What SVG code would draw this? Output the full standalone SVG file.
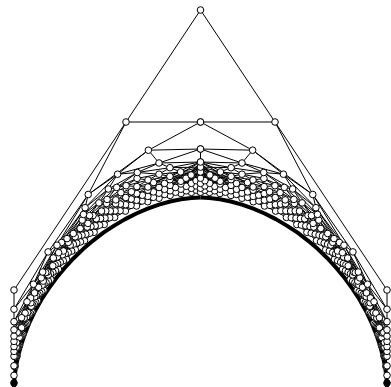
<svg xmlns="http://www.w3.org/2000/svg" width="391" height="387" viewBox="0 0 391 387">
<style>
.e{fill:none;stroke:#000;stroke-width:1;stroke-linejoin:round}
.n{fill:#fff;stroke:#000;stroke-width:1}
</style>
<rect width="391" height="387" fill="#fff"/>
<g id="connectors" class="e">
<g id="edgesL">
<path d="M200.5 10L126 122L200.5 122M126 122L14 290L14 309.2M126 122L88.2 194.5M200.5 122L148.4 150.2M14 375.4L14 386"/>
<path d="M14 309.2L48.1 251.9L88.2 194.5L148.4 150.2L200.5 149"/>
<path d="M14 321.7L33.5 284.2L57 245.2L85.1 207.7L117.6 174.2L159 163L200.5 162"/>
<path d="M14 329.8L27 301.8L42.7 272L61.6 242.5L83.5 214.4L108.3 189L137.3 172.5L169.9 167.7L200.5 167.1"/>
<path d="M14 336.1L21.6 317.7L30.6 298L41.2 277.9L53.3 258L67 238.6L82.2 220.1L98.9 202.9L116.7 187.4L137.1 178.4L159 174.2L180.6 171.9L200.5 172"/>
<path d="M14 341.4L17.3 332.5L25.1 313.1L34.5 292.9L45.7 272.6L58.6 252.7L73.3 233.5L89.5 215.6L107.1 199.4L126.1 185.7L148 180L169.9 176.4L191.1 175L200.5 175.2"/>
<path d="M14 346.6L18.6 333L24.2 318.1L30.9 302.8L38.6 287.3L47.5 272L57.4 256.9L68.3 242.4L80.2 228.5L93 215.5L106.6 203.5L120.9 192.7L136.9 186.6L153.5 182.5L170 179.7L186 178.2L200.5 178.2"/>
<path d="M14 351.4L16.6 342.6L21.6 327.8L27.6 312.4L34.8 296.7L43.2 281.1L52.8 265.8L63.5 251L75.2 236.8L87.9 223.4L101.5 211.1L115.8 199.9L131.4 191.8L147.9 187L164.5 183.4L180.8 181.3L196.1 180.7L200.5 180.7"/>
<path d="M14 356.2L16.3 347.4L19.2 337.5L22.7 327.3L26.7 316.8L31.2 306.3L36.4 295.7L42.1 285.2L48.3 274.9L55.1 264.7L62.4 254.8L70.2 245.1L78.5 235.9L87.2 227.1L96.3 218.8L105.8 210.9L115.6 203.7L125.8 197.5L136.8 193.6L147.9 190.2L159 187.5L170 185.4L180.9 184L191.3 183.4L200.5 183.4"/>
<path d="M14.9 356.8L17.3 347.2L20.2 337.1L23.7 326.6L27.9 315.9L32.7 305.2L38 294.6L44 284L50.5 273.7L57.6 263.5L65.3 253.7L73.4 244.2L82 235.1L91 226.5L100.5 218.5L110.3 211L120.4 204.1L131.2 199.1L142.3 195.2L153.4 191.9L164.5 189.3L175.5 187.5L186.2 186.3L196.2 185.9L200.5 185.9"/>
<path d="M14 365.8L15.7 356.9L18.1 346.9L21.1 336.4L24.8 325.6L29.2 314.8L34.2 304L39.8 293.2L46.1 282.6L52.9 272.3L60.3 262.2L68.3 252.4L76.8 243.1L85.8 234.2L95.2 225.8L105 218.1L115.1 210.9L125.6 204.7L136.6 200.2L147.8 196.4L159 193.2L170.1 190.8L180.9 189.2L191.3 188.3L200.5 188.2"/>
<path d="M14.6 366.4L16.4 356.6L18.9 346.2L22.1 335.4L26 324.5L30.5 313.5L35.8 302.5L41.8 291.7L48.3 281.1L55.5 270.7L63.3 260.7L71.7 251.1L80.5 241.9L89.8 233.2L99.6 225.1L109.7 217.7L120.1 210.8L131 205.4L142.1 201L153.4 197.3L164.6 194.4L175.6 192.2L186.3 190.8L196.2 190.2L200.5 190.2"/>
<path d="M14 375.4L15.1 366.4L17 356.1L19.6 345.3L23 334.3L27.2 323.1L32 312L37.6 300.9L43.9 290.1L50.8 279.4L58.4 269.1L66.5 259.2L75.3 249.7L84.5 240.7L94.1 232.3L104.2 224.5L114.6 217.4L125.4 211.1L136.5 206L147.7 201.7L159 198.2L170.1 195.4L181 193.5L191.4 192.4L200.5 192.2"/>
<path d="M14 321.7L14 309.2L33.5 284.2M33.5 284.2L48.1 251.9L57 245.2M57 245.2L88.2 194.5L85.1 207.7M88.2 194.5L117.6 174.2M117.6 174.2L148.4 150.2L159 163M159 163L200.5 149L200.5 162"/>
<path d="M14 329.8L14 321.7L27 301.8L33.5 284.2L42.7 272L57 245.2L61.6 242.5L85.1 207.7L108.3 189L117.6 174.2L137.3 172.5L159 163L169.9 167.7L200.5 162L200.5 167.1M85.1 207.7L83.5 214.4"/>
<path d="M14 336.1L14 329.8L21.6 317.7L27 301.8L30.6 298L42.7 272L53.3 258L61.6 242.5L67 238.6L83.5 214.4L98.9 202.9L108.3 189L116.7 187.4L137.3 172.5L159 174.2L169.9 167.7L180.6 171.9L200.5 167.1L200.5 172M42.7 272L41.2 277.9M83.5 214.4L82.2 220.1M137.3 172.5L137.1 178.4"/>
<path d="M14 341.4L14 336.1L17.3 332.5L21.6 317.7L25.1 313.1L30.6 298L34.5 292.9L41.2 277.9L45.7 272.6L53.3 258L58.6 252.7L67 238.6L73.3 233.5L82.2 220.1L89.5 215.6L98.9 202.9L107.1 199.4L116.7 187.4L126.1 185.7L137.1 178.4L148 180L159 174.2L169.9 176.4L180.6 171.9L191.1 175L200.5 172"/>
<path d="M14 341.4L14 346.6L17.3 332.5L18.6 333L25.1 313.1L30.9 302.8L34.5 292.9L38.6 287.3L45.7 272.6L47.5 272L58.6 252.7L68.3 242.4L73.3 233.5L80.2 228.5L89.5 215.6L93 215.5L107.1 199.4L120.9 192.7L126.1 185.7L136.9 186.6L148 180L153.5 182.5L169.9 176.4L186 178.2L191.1 175L200.5 178.2M25.1 313.1L24.2 318.1M58.6 252.7L57.4 256.9M107.1 199.4L106.6 203.5M169.9 176.4L170 179.7"/>
<path d="M14 351.4L14 346.6L16.6 342.6L18.6 333L21.6 327.8L24.2 318.1L27.6 312.4L30.9 302.8L34.8 296.7L38.6 287.3L43.2 281.1L47.5 272L52.8 265.8L57.4 256.9L63.5 251L68.3 242.4L75.2 236.8L80.2 228.5L87.9 223.4L93 215.5L101.5 211.1L106.6 203.5L115.8 199.9L120.9 192.7L131.4 191.8L136.9 186.6L147.9 187L153.5 182.5L164.5 183.4L170 179.7L180.8 181.3L186 178.2L196.1 180.7L200.5 178.2"/>
<path d="M14 356.2L14 351.4L16.3 347.4L16.6 342.6L19.2 337.5L21.6 327.8L22.7 327.3L27.6 312.4L31.2 306.3L34.8 296.7L36.4 295.7L43.2 281.1L48.3 274.9L52.8 265.8L55.1 264.7L63.5 251L70.2 245.1L75.2 236.8L78.5 235.9L87.9 223.4L96.3 218.8L101.5 211.1L105.8 210.9L115.8 199.9L125.8 197.5L131.4 191.8L136.8 193.6L147.9 187L159 187.5L164.5 183.4L170 185.4L180.8 181.3L191.3 183.4L196.1 180.7L200.5 183.4M27.6 312.4L26.7 316.8M43.2 281.1L42.1 285.2M63.5 251L62.4 254.8M87.9 223.4L87.2 227.1M115.8 199.9L115.6 203.7M147.9 187L147.9 190.2M180.8 181.3L180.9 184"/>
<path d="M14 356.2L14.9 356.8L16.3 347.4L17.3 347.2L19.2 337.5L20.2 337.1L22.7 327.3L23.7 326.6L26.7 316.8L27.9 315.9L31.2 306.3L32.7 305.2L36.4 295.7L38 294.6L42.1 285.2L44 284L48.3 274.9L50.5 273.7L55.1 264.7L57.6 263.5L62.4 254.8L65.3 253.7L70.2 245.1L73.4 244.2L78.5 235.9L82 235.1L87.2 227.1L91 226.5L96.3 218.8L100.5 218.5L105.8 210.9L110.3 211L115.6 203.7L120.4 204.1L125.8 197.5L131.2 199.1L136.8 193.6L142.3 195.2L147.9 190.2L153.4 191.9L159 187.5L164.5 189.3L170 185.4L175.5 187.5L180.9 184L186.2 186.3L191.3 183.4L196.2 185.9L200.5 183.4"/>
<path d="M14 365.8L14.9 356.8L15.7 356.9L17.3 347.2L18.1 346.9L20.2 337.1L21.1 336.4L23.7 326.6L24.8 325.6L27.9 315.9L29.2 314.8L32.7 305.2L34.2 304L38 294.6L39.8 293.2L44 284L46.1 282.6L50.5 273.7L52.9 272.3L57.6 263.5L60.3 262.2L65.3 253.7L68.3 252.4L73.4 244.2L76.8 243.1L82 235.1L85.8 234.2L91 226.5L95.2 225.8L100.5 218.5L105 218.1L110.3 211L115.1 210.9L120.4 204.1L125.6 204.7L131.2 199.1L136.6 200.2L142.3 195.2L147.8 196.4L153.4 191.9L159 193.2L164.5 189.3L170.1 190.8L175.5 187.5L180.9 189.2L186.2 186.3L191.3 188.3L196.2 185.9L200.5 188.2"/>
<path d="M14 365.8L14.6 366.4L15.7 356.9L16.4 356.6L18.1 346.9L18.9 346.2L21.1 336.4L22.1 335.4L24.8 325.6L26 324.5L29.2 314.8L30.5 313.5L34.2 304L35.8 302.5L39.8 293.2L41.8 291.7L46.1 282.6L48.3 281.1L52.9 272.3L55.5 270.7L60.3 262.2L63.3 260.7L68.3 252.4L71.7 251.1L76.8 243.1L80.5 241.9L85.8 234.2L89.8 233.2L95.2 225.8L99.6 225.1L105 218.1L109.7 217.7L115.1 210.9L120.1 210.8L125.6 204.7L131 205.4L136.6 200.2L142.1 201L147.8 196.4L153.4 197.3L159 193.2L164.6 194.4L170.1 190.8L175.6 192.2L180.9 189.2L186.3 190.8L191.3 188.3L196.2 190.2L200.5 188.2"/>
<path d="M14 375.4L14.6 366.4L15.1 366.4L16.4 356.6L17 356.1L18.9 346.2L19.6 345.3L22.1 335.4L23 334.3L26 324.5L27.2 323.1L30.5 313.5L32 312L35.8 302.5L37.6 300.9L41.8 291.7L43.9 290.1L48.3 281.1L50.8 279.4L55.5 270.7L58.4 269.1L63.3 260.7L66.5 259.2L71.7 251.1L75.3 249.7L80.5 241.9L84.5 240.7L89.8 233.2L94.1 232.3L99.6 225.1L104.2 224.5L109.7 217.7L114.6 217.4L120.1 210.8L125.4 211.1L131 205.4L136.5 206L142.1 201L147.7 201.7L153.4 197.3L159 198.2L164.6 194.4L170.1 195.4L175.6 192.2L181 193.5L186.3 190.8L191.4 192.4L196.2 190.2L200.5 192.2"/>
<path d="M200.5 162L153.5 182.5M200.5 162L170 179.7M200.5 162L186 178.2M200.5 167.1L147.9 190.2M200.5 167.1L159 187.5M200.5 167.1L170 185.4M200.5 167.1L180.9 184M200.5 172L159 193.2M200.5 172L170.1 190.8M200.5 172L180.9 189.2M200.5 175.3L153.4 197.3M200.5 175.3L164.6 194.4M200.5 175.3L175.6 192.2"/>
<path stroke-width="4" d="M14 387.5L14.4 378.3L15.8 367.7L18 356.6L21.1 345.2L25 333.7L29.7 322.1L35.2 310.7L41.5 299.5L48.6 288.6L56.3 278L64.7 267.9L73.6 258.2L83.1 249.1L93.1 240.6L103.4 232.7L114.2 225.6L125.2 219.1L136.4 213.5L147.7 208.7L159 204.7L170.2 201.5L181.1 199.3L191.5 198L200.5 197.5"/>
</g>
<use href="#edgesL" transform="matrix(-1 0 0 1 401 0)"/>
</g>
<g id="nodes" class="n">
<g id="nodesL">
<g id="level13"><circle cx="14" cy="375.4" r="3.3"/><circle cx="15.1" cy="366.4" r="3.3"/><circle cx="17" cy="356.1" r="3.3"/><circle cx="19.6" cy="345.3" r="3.3"/><circle cx="23" cy="334.3" r="3.3"/><circle cx="27.2" cy="323.1" r="3.3"/><circle cx="32" cy="312" r="3.3"/><circle cx="37.6" cy="300.9" r="3.3"/><circle cx="43.9" cy="290.1" r="3.3"/><circle cx="50.8" cy="279.4" r="3.3"/><circle cx="58.4" cy="269.1" r="3.3"/><circle cx="66.5" cy="259.2" r="3.3"/><circle cx="75.3" cy="249.7" r="3.3"/><circle cx="84.5" cy="240.7" r="3.3"/><circle cx="94.1" cy="232.3" r="3.3"/><circle cx="104.2" cy="224.5" r="3.3"/><circle cx="114.6" cy="217.4" r="3.3"/><circle cx="125.4" cy="211.1" r="3.3"/><circle cx="136.5" cy="206" r="3.3"/><circle cx="147.7" cy="201.7" r="3.3"/><circle cx="159" cy="198.2" r="3.3"/><circle cx="170.1" cy="195.4" r="3.3"/><circle cx="181" cy="193.5" r="3.3"/><circle cx="191.4" cy="192.4" r="3.3"/><circle cx="200.5" cy="192.2" r="3.3"/></g>
<g id="level12"><circle cx="14.6" cy="366.4" r="3.3"/><circle cx="16.4" cy="356.6" r="3.3"/><circle cx="18.9" cy="346.2" r="3.3"/><circle cx="22.1" cy="335.4" r="3.3"/><circle cx="26" cy="324.5" r="3.3"/><circle cx="30.5" cy="313.5" r="3.3"/><circle cx="35.8" cy="302.5" r="3.3"/><circle cx="41.8" cy="291.7" r="3.3"/><circle cx="48.3" cy="281.1" r="3.3"/><circle cx="55.5" cy="270.7" r="3.3"/><circle cx="63.3" cy="260.7" r="3.3"/><circle cx="71.7" cy="251.1" r="3.3"/><circle cx="80.5" cy="241.9" r="3.3"/><circle cx="89.8" cy="233.2" r="3.3"/><circle cx="99.6" cy="225.1" r="3.3"/><circle cx="109.7" cy="217.7" r="3.3"/><circle cx="120.1" cy="210.8" r="3.3"/><circle cx="131" cy="205.4" r="3.3"/><circle cx="142.1" cy="201" r="3.3"/><circle cx="153.4" cy="197.3" r="3.3"/><circle cx="164.6" cy="194.4" r="3.3"/><circle cx="175.6" cy="192.2" r="3.3"/><circle cx="186.3" cy="190.8" r="3.3"/><circle cx="196.2" cy="190.2" r="3.3"/></g>
<g id="level11"><circle cx="14" cy="365.8" r="3.3"/><circle cx="15.7" cy="356.9" r="3.3"/><circle cx="18.1" cy="346.9" r="3.3"/><circle cx="21.1" cy="336.4" r="3.3"/><circle cx="24.8" cy="325.6" r="3.3"/><circle cx="29.2" cy="314.8" r="3.3"/><circle cx="34.2" cy="304" r="3.3"/><circle cx="39.8" cy="293.2" r="3.3"/><circle cx="46.1" cy="282.6" r="3.3"/><circle cx="52.9" cy="272.3" r="3.3"/><circle cx="60.3" cy="262.2" r="3.3"/><circle cx="68.3" cy="252.4" r="3.3"/><circle cx="76.8" cy="243.1" r="3.3"/><circle cx="85.8" cy="234.2" r="3.3"/><circle cx="95.2" cy="225.8" r="3.3"/><circle cx="105" cy="218.1" r="3.3"/><circle cx="115.1" cy="210.9" r="3.3"/><circle cx="125.6" cy="204.7" r="3.3"/><circle cx="136.6" cy="200.2" r="3.3"/><circle cx="147.8" cy="196.4" r="3.3"/><circle cx="159" cy="193.2" r="3.3"/><circle cx="170.1" cy="190.8" r="3.3"/><circle cx="180.9" cy="189.2" r="3.3"/><circle cx="191.3" cy="188.3" r="3.3"/><circle cx="200.5" cy="188.2" r="3.3"/></g>
<g id="level10"><circle cx="14.9" cy="356.8" r="3.3"/><circle cx="17.3" cy="347.2" r="3.3"/><circle cx="20.2" cy="337.1" r="3.3"/><circle cx="23.7" cy="326.6" r="3.3"/><circle cx="27.9" cy="315.9" r="3.3"/><circle cx="32.7" cy="305.2" r="3.3"/><circle cx="38" cy="294.6" r="3.3"/><circle cx="44" cy="284" r="3.3"/><circle cx="50.5" cy="273.7" r="3.3"/><circle cx="57.6" cy="263.5" r="3.3"/><circle cx="65.3" cy="253.7" r="3.3"/><circle cx="73.4" cy="244.2" r="3.3"/><circle cx="82" cy="235.1" r="3.3"/><circle cx="91" cy="226.5" r="3.3"/><circle cx="100.5" cy="218.5" r="3.3"/><circle cx="110.3" cy="211" r="3.3"/><circle cx="120.4" cy="204.1" r="3.3"/><circle cx="131.2" cy="199.1" r="3.3"/><circle cx="142.3" cy="195.2" r="3.3"/><circle cx="153.4" cy="191.9" r="3.3"/><circle cx="164.5" cy="189.3" r="3.3"/><circle cx="175.5" cy="187.5" r="3.3"/><circle cx="186.2" cy="186.3" r="3.3"/><circle cx="196.2" cy="185.9" r="3.3"/></g>
<g id="level9"><circle cx="14" cy="356.2" r="3.3"/><circle cx="16.3" cy="347.4" r="3.3"/><circle cx="19.2" cy="337.5" r="3.3"/><circle cx="22.7" cy="327.3" r="3.3"/><circle cx="26.7" cy="316.8" r="3.3"/><circle cx="31.2" cy="306.3" r="3.3"/><circle cx="36.4" cy="295.7" r="3.3"/><circle cx="42.1" cy="285.2" r="3.3"/><circle cx="48.3" cy="274.9" r="3.3"/><circle cx="55.1" cy="264.7" r="3.3"/><circle cx="62.4" cy="254.8" r="3.3"/><circle cx="70.2" cy="245.1" r="3.3"/><circle cx="78.5" cy="235.9" r="3.3"/><circle cx="87.2" cy="227.1" r="3.3"/><circle cx="96.3" cy="218.8" r="3.3"/><circle cx="105.8" cy="210.9" r="3.3"/><circle cx="115.6" cy="203.7" r="3.3"/><circle cx="125.8" cy="197.5" r="3.3"/><circle cx="136.8" cy="193.6" r="3.3"/><circle cx="147.9" cy="190.2" r="3.3"/><circle cx="159" cy="187.5" r="3.3"/><circle cx="170" cy="185.4" r="3.3"/><circle cx="180.9" cy="184" r="3.3"/><circle cx="191.3" cy="183.4" r="3.3"/><circle cx="200.5" cy="183.4" r="3.3"/></g>
<g id="level8"><circle cx="14" cy="351.4" r="3.3"/><circle cx="16.6" cy="342.6" r="3.3"/><circle cx="21.6" cy="327.8" r="3.3"/><circle cx="27.6" cy="312.4" r="3.3"/><circle cx="34.8" cy="296.7" r="3.3"/><circle cx="43.2" cy="281.1" r="3.3"/><circle cx="52.8" cy="265.8" r="3.3"/><circle cx="63.5" cy="251" r="3.3"/><circle cx="75.2" cy="236.8" r="3.3"/><circle cx="87.9" cy="223.4" r="3.3"/><circle cx="101.5" cy="211.1" r="3.3"/><circle cx="115.8" cy="199.9" r="3.3"/><circle cx="131.4" cy="191.8" r="3.3"/><circle cx="147.9" cy="187" r="3.3"/><circle cx="164.5" cy="183.4" r="3.3"/><circle cx="180.8" cy="181.3" r="3.3"/><circle cx="196.1" cy="180.7" r="3.3"/></g>
<g id="level7"><circle cx="14" cy="346.6" r="3.3"/><circle cx="18.6" cy="333" r="3.3"/><circle cx="24.2" cy="318.1" r="3.3"/><circle cx="30.9" cy="302.8" r="3.3"/><circle cx="38.6" cy="287.3" r="3.3"/><circle cx="47.5" cy="272" r="3.3"/><circle cx="57.4" cy="256.9" r="3.3"/><circle cx="68.3" cy="242.4" r="3.3"/><circle cx="80.2" cy="228.5" r="3.3"/><circle cx="93" cy="215.5" r="3.3"/><circle cx="106.6" cy="203.5" r="3.3"/><circle cx="120.9" cy="192.7" r="3.3"/><circle cx="136.9" cy="186.6" r="3.3"/><circle cx="153.5" cy="182.5" r="3.3"/><circle cx="170" cy="179.7" r="3.3"/><circle cx="186" cy="178.2" r="3.3"/><circle cx="200.5" cy="178.2" r="3.3"/></g>
<g id="level6"><circle cx="14" cy="341.4" r="3.3"/><circle cx="17.3" cy="332.5" r="3.3"/><circle cx="25.1" cy="313.1" r="3.3"/><circle cx="34.5" cy="292.9" r="3.3"/><circle cx="45.7" cy="272.6" r="3.3"/><circle cx="58.6" cy="252.7" r="3.3"/><circle cx="73.3" cy="233.5" r="3.3"/><circle cx="89.5" cy="215.6" r="3.3"/><circle cx="107.1" cy="199.4" r="3.3"/><circle cx="126.1" cy="185.7" r="3.3"/><circle cx="148" cy="180" r="3.3"/><circle cx="169.9" cy="176.4" r="3.3"/><circle cx="191.1" cy="175" r="3.3"/></g>
<g id="level5"><circle cx="14" cy="336.1" r="3.3"/><circle cx="21.6" cy="317.7" r="3.3"/><circle cx="30.6" cy="298" r="3.3"/><circle cx="41.2" cy="277.9" r="3.3"/><circle cx="53.3" cy="258" r="3.3"/><circle cx="67" cy="238.6" r="3.3"/><circle cx="82.2" cy="220.1" r="3.3"/><circle cx="98.9" cy="202.9" r="3.3"/><circle cx="116.7" cy="187.4" r="3.3"/><circle cx="137.1" cy="178.4" r="3.3"/><circle cx="159" cy="174.2" r="3.3"/><circle cx="180.6" cy="171.9" r="3.3"/><circle cx="200.5" cy="172" r="3.3"/></g>
<g id="level4"><circle cx="14" cy="329.8" r="3.3"/><circle cx="27" cy="301.8" r="3.3"/><circle cx="42.7" cy="272" r="3.3"/><circle cx="61.6" cy="242.5" r="3.3"/><circle cx="83.5" cy="214.4" r="3.3"/><circle cx="108.3" cy="189" r="3.3"/><circle cx="137.3" cy="172.5" r="3.3"/><circle cx="169.9" cy="167.7" r="3.3"/><circle cx="200.5" cy="167.1" r="3.3"/></g>
<g id="level3"><circle cx="14" cy="321.7" r="3.3"/><circle cx="33.5" cy="284.2" r="3.3"/><circle cx="57" cy="245.2" r="3.3"/><circle cx="85.1" cy="207.7" r="3.3"/><circle cx="117.6" cy="174.2" r="3.3"/><circle cx="159" cy="163" r="3.3"/><circle cx="200.5" cy="162" r="3.3"/></g>
<g id="level2"><circle cx="14" cy="309.2" r="3.3"/><circle cx="48.1" cy="251.9" r="3.3"/><circle cx="88.2" cy="194.5" r="3.3"/><circle cx="148.4" cy="150.2" r="3.3"/><circle cx="200.5" cy="149" r="3.3"/></g>
<g id="level1"><circle cx="14" cy="290" r="3.3"/><circle cx="126" cy="122" r="3.3"/><circle cx="200.5" cy="122" r="3.3"/></g>
<g id="bottom"><circle cx="14" cy="383" r="3.3" fill="#000"/></g>
</g>
<use href="#nodesL" transform="matrix(-1 0 0 1 401 0)"/>
<g id="top"><circle cx="200.5" cy="10" r="3.3"/></g>
</g>
</svg>
